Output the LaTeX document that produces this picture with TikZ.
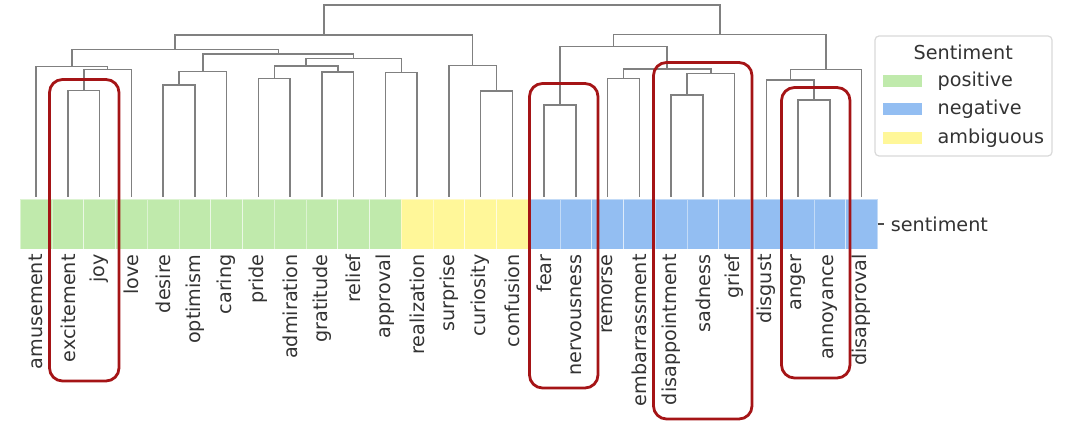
\documentclass[tikz,border=0pt]{standalone}
\usepackage{fontspec}
\setmainfont{DejaVu Sans}
\usepackage{tikz}

\definecolor{posgreen}{RGB}{192,234,172}
\definecolor{negblue}{RGB}{147,190,242}
\definecolor{ambyellow}{RGB}{255,247,153}
\definecolor{boxred}{RGB}{165,20,22}

\begin{document}
\begin{tikzpicture}[x=0.5pt, y=-0.5pt,
    declare function={lx(\i)=20.3+31.75*(\i+.5);}]
        \tikzstyle{every node} = [font=\fontsize{9.6}{11}\selectfont, text=black!80, inner sep=0pt]
        \tikzstyle{link} = [draw=black!50, line width=0.75pt]
        \tikzstyle{cell} = [draw=white, draw opacity=0.45, line width=0.35pt]
        \tikzstyle{group} = [draw=boxred, line width=1.4pt, rounded corners=6.5pt]
        \useasboundingbox (0,0) rectangle (1080,442);

        % leaves: colour cells and labels
        \foreach \name/\col [count=\i from 0] in {amusement/posgreen, excitement/posgreen,
            joy/posgreen, love/posgreen, desire/posgreen, optimism/posgreen, caring/posgreen,
            pride/posgreen, admiration/posgreen, gratitude/posgreen, relief/posgreen,
            approval/posgreen, realization/ambyellow, surprise/ambyellow, curiosity/ambyellow,
            confusion/ambyellow, fear/negblue, nervousness/negblue, remorse/negblue,
            embarrassment/negblue, disappointment/negblue, sadness/negblue, grief/negblue,
            disgust/negblue, anger/negblue, annoyance/negblue, disapproval/negblue}
        {
            \draw[cell, fill=\col] ({lx(\i)-15.875},199) rectangle ({lx(\i)+15.875},249);
            \coordinate (\name) at ({lx(\i)},197);
            \node[rotate=90, anchor=east] (t-\name) at ({lx(\i)},254) {\name};
        }

        % merges
        \coordinate (A) at ({lx(1.5)},90.7);
        \coordinate (B) at ({lx(2.25)},69.3);
        \coordinate (C) at ({lx(1.125)},66.7);
        \coordinate (D) at ({lx(4.5)},85);
        \coordinate (E) at ({lx(5.25)},71.7);
        \coordinate (F) at ({lx(7.5)},78.7);
        \coordinate (G) at ({lx(9.5)},72);
        \coordinate (H) at ({lx(8.5)},66);
        \coordinate (I) at ({lx(11.5)},72.7);
        \coordinate (J) at ({lx(10)},58.5);
        \coordinate (K) at ({lx(7.625)},54);
        \coordinate (L) at ({lx(4.375)},49.3);
        \coordinate (M) at ({lx(14.5)},91);
        \coordinate (N) at ({lx(13.75)},65.7);
        \coordinate (O) at ({lx(9.0625)},35);
        \coordinate (P) at ({lx(16.5)},105);
        \coordinate (Q) at ({lx(18.5)},78.3);
        \coordinate (R) at ({lx(20.5)},95);
        \coordinate (S) at ({lx(21.25)},73.3);
        \coordinate (T) at ({lx(19.875)},69);
        \coordinate (U) at ({lx(18.1875)},46.7);
        \coordinate (V) at ({lx(24.5)},100);
        \coordinate (W) at ({lx(23.75)},80);
        \coordinate (X) at ({lx(24.875)},69.3);
        \coordinate (Y) at ({lx(21.53125)},34.3);
        \coordinate (Z) at ({lx(15.296875)},5);

        \foreach \from/\to in {A/excitement, A/joy, B/A, B/love, C/amusement, C/B,
            D/desire, D/optimism, E/D, E/caring, F/pride, F/admiration, G/gratitude, G/relief,
            H/F, H/G, I/approval, I/realization, J/H, J/I, K/E, K/J, L/C, L/K,
            M/curiosity, M/confusion, N/surprise, N/M, O/L, O/N,
            P/fear, P/nervousness, Q/remorse, Q/embarrassment, R/disappointment, R/sadness,
            S/R, S/grief, T/Q, T/S, U/P, U/T, V/anger, V/annoyance, W/disgust, W/V,
            X/W, X/disapproval, Y/U, Y/X, Z/O, Z/Y}
            \draw[link] (\from) -| (\to);

        % row label
        \coordinate (bar) at (877.6,224);
        \node[anchor=west] (row) at (890.5,224) {sentiment};
        \draw[black!70, line width=0.6pt] (bar) -- ++(6,0);

        % highlighted groups
        \draw[group] (49.5,79.5) rectangle (119,381);
        \draw[group] (529.5,83.5) rectangle (598,388);
        \draw[group] (653.5,62.5) rectangle (752,419);
        \draw[group] (781.5,87.5) rectangle (850,378);

        % legend
        \draw[draw=black!15, fill=white, rounded corners=2pt, line width=0.6pt] (875,36) rectangle (1052,156);
        \node (title) at (963.3,52.7) {Sentiment};
        \foreach \lab/\col/\y in {positive/posgreen/81.2, negative/negblue/109.2, ambiguous/ambyellow/138}
        {
            \fill[\col] (882.7,\y-6.2) rectangle (921.7,\y+6.2);
            \node[anchor=west] (k-\lab) at (937.3,\y) {\lab};
        }
\end{tikzpicture}
\end{document}
